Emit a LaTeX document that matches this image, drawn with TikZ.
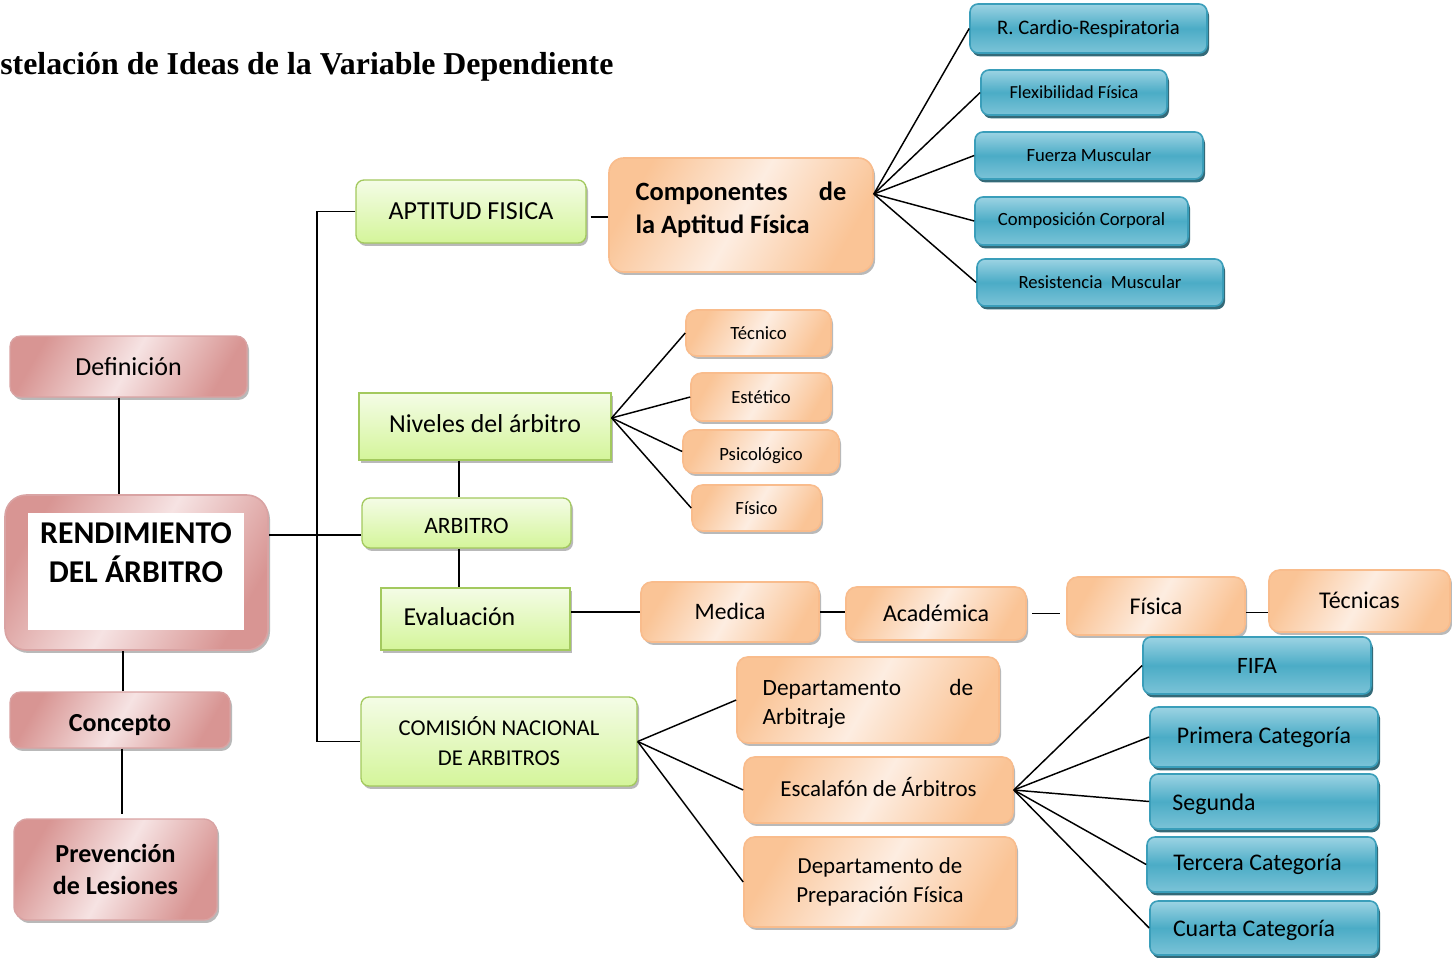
\documentclass[tikz,border=0pt]{standalone}
\usepackage{fontspec}
\setmainfont{Carlito}
\newfontfamily\titlefont{Liberation Serif}
\usetikzlibrary{shadows,calc}

\definecolor{pinkD}{HTML}{D89593}
\definecolor{pinkL}{HTML}{F6E3E3}
\definecolor{pinkB}{HTML}{D9A3A3}
\definecolor{orD}{HTML}{FAC496}
\definecolor{orL}{HTML}{FDEDE1}
\definecolor{orB}{HTML}{F9BC8C}
\definecolor{grT}{HTML}{F4FCE6}
\definecolor{grB}{HTML}{D4F59A}
\definecolor{grE}{HTML}{A3C95E}
\definecolor{blT}{HTML}{9CD3E3}
\definecolor{blM}{HTML}{4BACC6}
\definecolor{blE}{HTML}{3A9EBA}
\definecolor{blS}{HTML}{1F5A6A}

% font size helper
\newcommand\fsz[2]{\fontsize{#1pt}{#2pt}\selectfont}
% move text up or down without changing its box
\newcommand\vshift[2]{\raisebox{#1}[\height][\depth]{#2}}
% box from pixel corners: style, name, x1, y1, x2, y2, text
\newcommand\boxat[7]{\node[#1, minimum width={(#5-#3)*0.75pt}, minimum height={(#6-#4)*0.75pt}] (#2) at ({(#3+#5)/2},{(#4+#6)/2}) {#7};}

\tikzset{
  base/.style={inner sep=0pt, align=center, text=black},
  greyshadow/.style={drop shadow={shadow xshift=1.5pt, shadow yshift=-2.2pt, fill=black!50, opacity=.55}},
  pinkbox/.style={base, draw=pinkB, line width=1pt, rounded corners=8pt,
    left color=pinkD, right color=pinkD, middle color=pinkL, shading angle=60, greyshadow},
  orbox/.style={base, draw=orB, line width=1.2pt, rounded corners=8pt,
    left color=orD, right color=orD, middle color=orL, shading angle=60, greyshadow},
  grbox/.style={base, draw=grE, line width=1pt, rounded corners=6pt,
    top color=grT, bottom color=grB, greyshadow},
  grsquare/.style={grbox, sharp corners},
  blbox/.style={base, draw=blE, line width=1.2pt, rounded corners=6pt,
    top color=blT, bottom color=blT!60!blM, middle color=blM,
    drop shadow={shadow xshift=1.5pt, shadow yshift=-2.5pt, fill=blS, opacity=.9}},
  link/.style={line width=1.1pt, draw=black},
}

\begin{document}
\begin{tikzpicture}[x=0.75pt, y=-0.75pt]
\useasboundingbox (0,0) rectangle (1452,957);
\fill[white] (0,0) rectangle (1452,957);

% heading
\node[anchor=west, inner sep=0pt, font=\titlefont\bfseries\fsz{23.9}{28}] (title) at (0,67)
  {stelación de Ideas de la Variable Dependiente};

% left column
\boxat{pinkbox, font=\fsz{19.5}{24}}{def}{10}{336}{247}{397}{Definición}
\boxat{pinkbox, rounded corners=16pt, line width=1.2pt}{rend}{5}{495}{268}{650}{}
\fill[white] (28,513) rectangle (244,630);
\node[base, font=\bfseries\fsz{23.8}{29}] (rendtxt) at (136,553) {RENDIMIENTO\\DEL ÁRBITRO};
\boxat{pinkbox, font=\bfseries\fsz{19.5}{24}}{conc}{10}{692}{230}{748}{\vshift{-3.75pt}{Concepto}}
\boxat{pinkbox, rounded corners=10pt, font=\bfseries\fsz{19.5}{24}}{prev}{14}{819}{217}{920}{Prevención\\de Lesiones}

% green column
\boxat{grbox, font=\fsz{19.5}{24}}{apt}{356}{180}{586}{243}{APTITUD FISICA}
\boxat{grsquare, font=\fsz{19.4}{24}}{niv}{359}{393}{611}{460}{\vshift{2pt}{Niveles del árbitro}}
\boxat{grbox, font=\fsz{17.6}{22}}{arb}{362}{498}{571}{548}{\vshift{-2pt}{ARBITRO}}
\boxat{grsquare, font=\fsz{19.4}{24}}{eval}{381}{588}{570}{650}{\vshift{1.5pt}{Evaluación}\hspace{24pt}}
\boxat{grbox, font=\fsz{17}{22.5}}{com}{361}{697}{637}{786}{COMISIÓN NACIONAL\\DE ARBITROS}

% orange boxes
\boxat{orbox, rounded corners=11pt, font=\bfseries\fsz{19.8}{24.75}}{comp}{609}{158}{873}{272}%
  {\vshift{3.75pt}{\parbox{158pt}{\raggedright Componentes\hfill de\\la Aptitud Física}}}
\boxat{orbox, font=\fsz{14}{17}}{tec}{686}{310}{831}{356}{Técnico}
\boxat{orbox, font=\fsz{14}{17}}{est}{691}{373}{831}{421}{Estético}
\boxat{orbox, font=\fsz{14}{17}}{psi}{683}{430}{839}{473}{\vshift{-3pt}{Psicológico}}
\boxat{orbox, font=\fsz{14}{17}}{fis}{692}{485}{821}{531}{Físico}
\boxat{orbox, font=\fsz{17.7}{22}}{med}{641}{582}{819}{642}{\vshift{0.75pt}{Medica}}
\boxat{orbox, font=\fsz{18}{22}}{aca}{846}{587}{1026}{640}{Académica}
\boxat{orbox, font=\fsz{18}{22}}{fisi}{1067}{577}{1245}{635}{Física}
\boxat{orbox, font=\fsz{18}{22}}{tecn}{1269}{570}{1450}{632}{\vshift{0.75pt}{Técnicas}}
\boxat{orbox, font=\fsz{17.5}{21.75}}{dA}{737}{657}{999}{743}%
  {\vshift{-3pt}{\parbox{158pt}{\raggedright Departamento\hfill de\\Arbitraje}}}
\boxat{orbox, font=\fsz{17.2}{22}}{esc}{744}{757}{1013}{823}{\vshift{2pt}{Escalafón de Árbitros}}
\boxat{orbox, font=\fsz{17.2}{21.75}}{dp}{744}{837}{1016}{927}{Departamento de\\Preparación Física}

% blue boxes
\boxat{blbox, font=\fsz{15.5}{19}}{rc}{970}{4}{1207}{53}{R. Cardio-Respiratoria}
\boxat{blbox, font=\fsz{13.8}{17}}{flex}{981}{70}{1167}{115}{Flexibilidad Física}
\boxat{blbox, font=\fsz{14}{17}}{fue}{975}{132}{1203}{179}{Fuerza Muscular}
\boxat{blbox, font=\fsz{14}{17}}{cpc}{975}{197}{1188}{245}{Composición Corporal}
\boxat{blbox, font=\fsz{14}{17}}{res}{977}{259}{1223}{306}{Resistencia\ \ Muscular}
\boxat{blbox, font=\fsz{17.6}{22}}{fifa}{1143}{637}{1371}{694}{FIFA}
\boxat{blbox, font=\fsz{17.9}{22}}{prim}{1150}{707}{1378}{767}{Primera Categoría}
\boxat{blbox, font=\fsz{17.9}{22}}{seg}{1150}{774}{1378}{829}{\vshift{-2pt}{Segunda}\hspace{75pt}}
\boxat{blbox, font=\fsz{17.9}{22}}{terc}{1147}{837}{1376}{892}{Tercera Categoría\hspace{6pt}}
\boxat{blbox, font=\fsz{17.9}{22}}{cua}{1150}{901}{1378}{955}{\vshift{-2pt}{Cuarta Categoría}\hspace{15pt}}

% connectors, left column
\draw[link] (def.south) ++(-9.5,0) coordinate (d1) -- (d1 |- rend.north);
\draw[link] (conc.north) ++(3,0) coordinate (c1) -- (c1 |- rend.south);
\draw[link] (conc.south) ++(2,0) coordinate (c2) -- ([yshift=3pt]c2 |- prev.north);

% main bus
\coordinate (bus) at (317,0);
\draw[link] (apt.west) -- (apt.west -| bus) -- (com.west -| bus) -- (com.west);
\draw[link] ([yshift=-9pt]arb.west) -- ([yshift=-9pt]arb.west -| rend.east);

% green column chain
\draw[link] (niv.south) ++(-26,0) coordinate (n1) -- (n1 |- arb.north);
\draw[link] (n1 |- arb.south) -- (n1 |- eval.north);

% physical fitness components
\draw[link, shorten <=3pt] ([yshift=-4pt]apt.east) -- ([yshift=-4pt]apt.east -| comp.west);
\coordinate (fc) at ([yshift=15.75pt]comp.east);
\foreach \t in {rc, flex, fue, cpc, res} \draw[link] (fc) -- (\t.west);

% referee levels
\coordinate (fn) at ([yshift=6.4pt]niv.east);
\foreach \t in {tec, est, psi, fis} \draw[link] (fn) -- (\t.west);

% evaluation chain
\draw[link] (med.west) -- (med.west -| eval.east);
\draw[link] (med.east) -- (med.east -| aca.west);
\draw[link, shorten <=4pt, shorten >=5pt] (aca.east) -- (aca.east -| fisi.west);
\draw[link] ([yshift=-5pt]fisi.east) -- ([yshift=-5pt]fisi.east -| tecn.west);

% national commission
\foreach \t in {dA, esc, dp} \draw[link] (com.east) -- (\t.west);
\foreach \t in {fifa, prim, seg, terc, cua} \draw[link] (esc.east) -- (\t.west);
\end{tikzpicture}
\end{document}
